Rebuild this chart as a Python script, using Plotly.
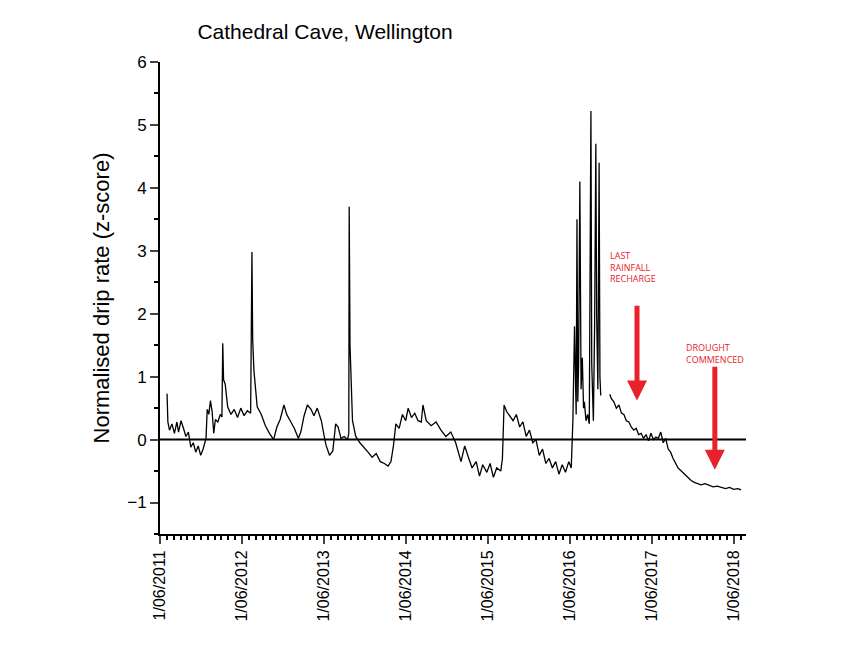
import plotly.graph_objects as go
import pandas as pd

# decimal year of each reading and normalised drip rate (z-score)
t = [2011.50, 2011.51, 2011.53, 2011.56, 2011.59, 2011.62, 2011.64, 2011.67, 2011.70, 2011.73, 2011.76, 2011.79,
     2011.82, 2011.85, 2011.88, 2011.91, 2011.94, 2011.975, 2011.99, 2012.01, 2012.03, 2012.05, 2012.07, 2012.09,
     2012.12, 2012.15, 2012.17, 2012.18, 2012.19, 2012.21, 2012.24, 2012.28, 2012.32, 2012.36, 2012.40, 2012.44,
     2012.48, 2012.52, 2012.536, 2012.545, 2012.56, 2012.60, 2012.65, 2012.70, 2012.75, 2012.80, 2012.84, 2012.88,
     2012.926, 2012.96, 2013.00, 2013.05, 2013.10, 2013.13, 2013.17, 2013.21, 2013.255, 2013.29, 2013.33, 2013.38,
     2013.42, 2013.44, 2013.48, 2013.52, 2013.555, 2013.585, 2013.62, 2013.66, 2013.70, 2013.715, 2013.72, 2013.73,
     2013.76, 2013.80, 2013.85, 2013.90, 2013.95, 2014.00, 2014.05, 2014.10, 2014.15, 2014.195, 2014.23, 2014.26,
     2014.29, 2014.33, 2014.37, 2014.41, 2014.44, 2014.48, 2014.52, 2014.56, 2014.60, 2014.62, 2014.66, 2014.72,
     2014.78, 2014.84, 2014.90, 2014.96, 2015.02, 2015.085, 2015.13, 2015.18, 2015.22, 2015.27, 2015.31, 2015.35,
     2015.40, 2015.44, 2015.48, 2015.52, 2015.57, 2015.59, 2015.61, 2015.64, 2015.68, 2015.72, 2015.76, 2015.80,
     2015.84, 2015.88, 2015.92, 2015.96, 2016.00, 2016.04, 2016.08, 2016.12, 2016.16, 2016.20, 2016.24, 2016.28,
     2016.32, 2016.36, 2016.40, 2016.43, 2016.45, 2016.47, 2016.49, 2016.50, 2016.51, 2016.52, 2016.535, 2016.55,
     2016.565, 2016.58, 2016.59, 2016.61, 2016.63, 2016.65, 2016.67, 2016.68, 2016.70, 2016.715, 2016.73, 2016.74,
     2016.755, 2016.77, 2016.78, 2016.79, 2016.84,
     2016.90, 2016.92, 2016.95, 2016.98, 2017.01, 2017.04, 2017.07, 2017.10, 2017.13, 2017.16, 2017.19, 2017.22,
     2017.25, 2017.28, 2017.31, 2017.34, 2017.37, 2017.40, 2017.43, 2017.46, 2017.49, 2017.52, 2017.55, 2017.58,
     2017.61, 2017.64, 2017.67, 2017.70, 2017.73, 2017.77, 2017.81, 2017.85, 2017.89, 2017.93, 2017.97, 2018.01,
     2018.06, 2018.11, 2018.16, 2018.21, 2018.26, 2018.31, 2018.36, 2018.41, 2018.46, 2018.50]
z = [0.73, 0.28, 0.15, 0.25, 0.10, 0.28, 0.12, 0.30, 0.18, 0.05, 0.12, -0.12,
     -0.05, -0.20, -0.10, -0.25, -0.15, 0.02, 0.48, 0.40, 0.62, 0.45, 0.10, 0.32,
     0.28, 0.40, 0.36, 1.53, 0.95, 0.88, 0.52, 0.40, 0.48, 0.35, 0.50, 0.38,
     0.46, 0.42, 2.98, 1.60, 1.10, 0.52, 0.40, 0.22, 0.10, 0.00, 0.20, 0.32,
     0.55, 0.40, 0.30, 0.18, 0.02, 0.12, 0.38, 0.55, 0.48, 0.38, 0.50, 0.30,
     0.02, -0.10, -0.25, -0.18, 0.25, 0.20, 0.02, 0.05, 0.00, 0.10, 3.70, 1.50,
     0.30, 0.05, -0.05, -0.12, -0.20, -0.28, -0.22, -0.35, -0.38, -0.42, -0.35, -0.10,
     0.25, 0.18, 0.40, 0.30, 0.50, 0.35, 0.42, 0.30, 0.28, 0.55, 0.30, 0.22,
     0.28, 0.15, 0.05, 0.12, -0.05, -0.35, -0.10, -0.30, -0.45, -0.35, -0.58, -0.40,
     -0.52, -0.38, -0.60, -0.45, -0.50, -0.30, 0.55, 0.45, 0.38, 0.30, 0.40, 0.20,
     0.28, 0.05, 0.15, -0.05, 0.00, -0.25, -0.15, -0.38, -0.30, -0.45, -0.35, -0.55,
     -0.40, -0.52, -0.35, -0.45, 0.30, 1.80, 0.40, 3.50, 0.60, 1.20, 4.10, 0.80,
     1.30, 0.50, 0.60, 0.30, 0.40, 0.25, 5.22, 1.20, 0.30, 1.80, 4.70, 2.00,
     0.80, 4.40, 1.00, 0.70, None,
     0.72, 0.65, 0.60, 0.50, 0.55, 0.42, 0.40, 0.30, 0.28, 0.20, 0.15, 0.18,
     0.08, 0.10, 0.02, 0.08, -0.02, 0.10, 0.00, 0.04, 0.02, 0.12, -0.05, 0.02,
     -0.15, -0.20, -0.30, -0.38, -0.45, -0.50, -0.55, -0.60, -0.65, -0.68, -0.70, -0.72,
     -0.70, -0.73, -0.75, -0.74, -0.76, -0.78, -0.76, -0.79, -0.78, -0.80]


def to_date(y):
    return pd.Timestamp(int(y), 1, 1) + pd.Timedelta(days=(y - int(y)) * 365.25)


dates = [to_date(v) for v in t]

fig = go.Figure()
fig.add_trace(go.Scatter(x=dates, y=z, mode="lines", connectgaps=False,
                         line=dict(color="black", width=1.3)))

fig.add_hline(y=0, line_color="black", line_width=2)

red = "#e8212a"
fig.add_annotation(x=to_date(2017.23), y=0.62, ax=to_date(2017.23), ay=2.15,
                   axref="x", ayref="y", showarrow=True, arrowhead=2, arrowsize=0.8,
                   arrowwidth=5, arrowcolor=red, text="")
fig.add_annotation(x=to_date(2018.18), y=-0.48, ax=to_date(2018.18), ay=1.18,
                   axref="x", ayref="y", showarrow=True, arrowhead=2, arrowsize=0.8,
                   arrowwidth=5, arrowcolor=red, text="")
fig.add_annotation(x=to_date(2016.88), y=2.75, xanchor="left", yanchor="middle", showarrow=False,
                   align="left", text="LAST<br>RAINFALL<br>RECHARGE",
                   font=dict(family="Open Sans", size=9, color=red))
fig.add_annotation(x=to_date(2017.80), y=1.37, xanchor="left", yanchor="middle", showarrow=False,
                   align="left", text="DROUGHT<br>COMMENCED",
                   font=dict(family="Open Sans", size=9, color=red))

fig.update_layout(
    width=861, height=659, autosize=False,
    margin=dict(l=152, r=123, t=54, b=133),
    paper_bgcolor="white", plot_bgcolor="white",
    showlegend=False,
    font=dict(family="Liberation Sans", color="black"),
    title=dict(text="Cathedral Cave, Wellington", x=0.22, xanchor="left", y=0.975,
               font=dict(size=21)),
)
fig.update_xaxes(
    type="date", range=[to_date(2011.414), to_date(2018.56)],
    tick0="2011-06-01", dtick="M12", tickformat="%-d/%m/%Y", tickangle=-90,
    tickfont=dict(size=16), showgrid=False, zeroline=False,
    showline=True, linecolor="black", linewidth=2,
    ticks="outside", ticklen=8, tickwidth=1.5,
    minor=dict(dtick="M1", ticks="outside", ticklen=4, tickcolor="black"),
)
fig.update_yaxes(
    range=[-1.5, 6], dtick=1, tickfont=dict(size=17), showgrid=False, zeroline=False,
    showline=True, linecolor="black", linewidth=2,
    ticks="outside", ticklen=8, tickwidth=1.5,
    minor=dict(dtick=0.5, ticks="outside", ticklen=4, tickcolor="black"),
    title=dict(text="Normalised drip rate (z-score)", font=dict(size=22), standoff=12),
)

fig.write_html("out.html")
